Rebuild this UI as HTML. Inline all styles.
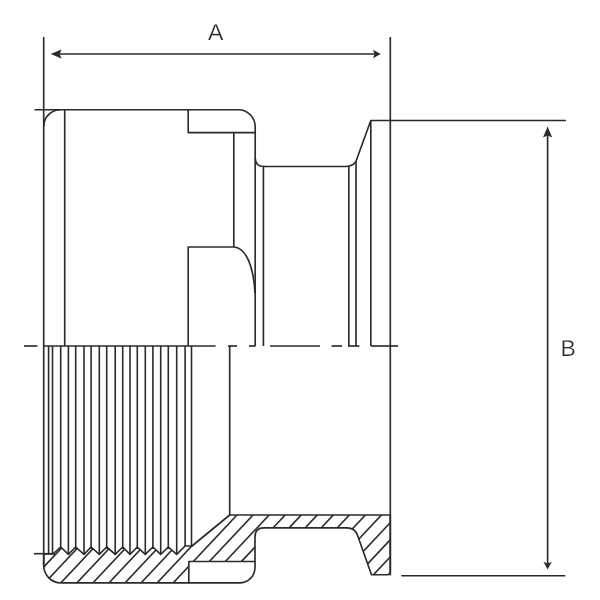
<!DOCTYPE html>
<html lang="en">
<head>
<meta charset="utf-8">
<title>Fitting dimensions A / B</title>
<style>
html,body{margin:0;padding:0;background:#fff;}
body{width:600px;height:600px;overflow:hidden;}
svg{display:block;}
text{font-family:"Liberation Sans",Arial,sans-serif;font-size:23px;fill:#2d2a2b;stroke:#fff;stroke-width:0.25px;text-rendering:geometricPrecision;}
</style>
</head>
<body>
<svg width="600" height="600" viewBox="0 0 600 600">
<defs><clipPath id="sec"><path d="M43.7,553.7 L53.00,554.00 60.70,547.00 68.40,554.30 75.70,547.00 84.00,554.30 91.10,547.00 99.30,554.30 106.70,547.00 115.20,554.30 122.70,547.00 130.00,554.30 137.30,547.00 145.30,554.30 152.90,547.00 160.70,554.30 168.30,547.00 176.70,554.30 185.10,546.00 192.00,546.00 229.70,515.00 L390.3,515 L390.3,571.5 Q390.3,574.7 387,574.7 L371.5,574.7 L357.6,535.5 Q355,527.8 347,527.8 L263.5,527.8 Q255,527.8 255,536.5 L255,561.5 L188.8,561.5 L188.8,582.9 L61,582.9 A17.3,17.3 0 0 1 43.7,565.6 Z"/></clipPath></defs>
<rect width="600" height="600" fill="#fff"/>
<g fill="none" stroke="#2d2a2b" stroke-width="1.65" stroke-linecap="butt" stroke-linejoin="round">
<!-- hatch -->
<g clip-path="url(#sec)" stroke-width="1.6"><line x1="-10.05" y1="590" x2="69.85" y2="505"/><line x1="6.00" y1="590" x2="85.90" y2="505"/><line x1="22.05" y1="590" x2="101.95" y2="505"/><line x1="38.10" y1="590" x2="118.00" y2="505"/><line x1="54.15" y1="590" x2="134.05" y2="505"/><line x1="70.20" y1="590" x2="150.10" y2="505"/><line x1="86.25" y1="590" x2="166.15" y2="505"/><line x1="102.30" y1="590" x2="182.20" y2="505"/><line x1="118.35" y1="590" x2="198.25" y2="505"/><line x1="134.40" y1="590" x2="214.30" y2="505"/><line x1="150.45" y1="590" x2="230.35" y2="505"/><line x1="166.50" y1="590" x2="246.40" y2="505"/><line x1="182.55" y1="590" x2="262.45" y2="505"/><line x1="198.60" y1="590" x2="278.50" y2="505"/><line x1="214.65" y1="590" x2="294.55" y2="505"/><line x1="230.70" y1="590" x2="310.60" y2="505"/><line x1="246.75" y1="590" x2="326.65" y2="505"/><line x1="262.80" y1="590" x2="342.70" y2="505"/><line x1="278.85" y1="590" x2="358.75" y2="505"/><line x1="294.90" y1="590" x2="374.80" y2="505"/><line x1="310.95" y1="590" x2="390.85" y2="505"/><line x1="327.00" y1="590" x2="406.90" y2="505"/><line x1="343.05" y1="590" x2="422.95" y2="505"/><line x1="359.10" y1="590" x2="439.00" y2="505"/><line x1="375.15" y1="590" x2="455.05" y2="505"/><line x1="391.20" y1="590" x2="471.10" y2="505"/><line x1="407.25" y1="590" x2="487.15" y2="505"/><line x1="423.30" y1="590" x2="503.20" y2="505"/></g>
<!-- section outline -->
<path d="M43.7,553.7 L53.00,554.00 60.70,547.00 68.40,554.30 75.70,547.00 84.00,554.30 91.10,547.00 99.30,554.30 106.70,547.00 115.20,554.30 122.70,547.00 130.00,554.30 137.30,547.00 145.30,554.30 152.90,547.00 160.70,554.30 168.30,547.00 176.70,554.30 185.10,546.00 192.00,546.00 229.70,515.00 L390.3,515 L390.3,571.5 Q390.3,574.7 387,574.7 L371.5,574.7 L357.6,535.5 Q355,527.8 347,527.8 L263.5,527.8 Q255,527.8 255,536.5 L255,561.5 L188.8,561.5 L188.8,582.9 L61,582.9 A17.3,17.3 0 0 1 43.7,565.6 Z"/>
<!-- thread lines -->
<g stroke-width="1.6"><line x1="60.70" y1="346.0" x2="60.70" y2="547.0"/><line x1="75.70" y1="346.0" x2="75.70" y2="547.0"/><line x1="91.10" y1="346.0" x2="91.10" y2="547.0"/><line x1="106.70" y1="346.0" x2="106.70" y2="547.0"/><line x1="122.70" y1="346.0" x2="122.70" y2="547.0"/><line x1="137.30" y1="346.0" x2="137.30" y2="547.0"/><line x1="152.90" y1="346.0" x2="152.90" y2="547.0"/><line x1="168.30" y1="346.0" x2="168.30" y2="547.0"/><line x1="68.40" y1="346.0" x2="68.40" y2="554.3"/><line x1="84.00" y1="346.0" x2="84.00" y2="554.3"/><line x1="99.30" y1="346.0" x2="99.30" y2="554.3"/><line x1="115.20" y1="346.0" x2="115.20" y2="554.3"/><line x1="130.00" y1="346.0" x2="130.00" y2="554.3"/><line x1="145.30" y1="346.0" x2="145.30" y2="554.3"/><line x1="160.70" y1="346.0" x2="160.70" y2="554.3"/><line x1="176.70" y1="346.0" x2="176.70" y2="554.3"/><line x1="48.6" y1="346.0" x2="48.6" y2="553.3"/><line x1="52.5" y1="346.0" x2="52.5" y2="553.8"/><line x1="185.1" y1="346.0" x2="185.1" y2="546.0"/><line x1="191.5" y1="346.0" x2="191.5" y2="546.0"/></g>
<line x1="34" y1="553.7" x2="55" y2="553.7"/>
<!-- left edge / extension line -->
<line x1="43.7" y1="37" x2="43.7" y2="566"/>
<!-- upper profile -->
<path d="M34.5,109.7 L238.4,109.7 A16.8,17.2 0 0 1 255.2,126.9 L255.2,346.0"/>
<path d="M43.7,126.5 A16.5,16.8 0 0 1 60.2,109.7"/>
<line x1="64.7" y1="109.7" x2="64.7" y2="346.0"/>
<path d="M188.2,109.7 L188.2,132.6 L255.2,132.6"/>
<path d="M233.8,132.5 L233.8,247 M188.2,346.0 L188.2,247 L233.8,247 C246.5,248 253.6,267 255.0,293"/>
<path d="M255.2,158 Q255.4,166.5 263.6,166.5 L345,166.5 Q352.5,166.5 355.8,161.7 L370.8,120.5 L566,120.5"/>
<line x1="263.4" y1="166.5" x2="263.4" y2="346.0"/>
<line x1="348.8" y1="166.5" x2="348.8" y2="346.0"/>
<line x1="356" y1="161.5" x2="356" y2="346.0"/>
<line x1="370.8" y1="120.5" x2="370.8" y2="346.0"/>
<line x1="390.3" y1="37" x2="390.3" y2="575.4"/>
<!-- lower inner -->
<line x1="229.7" y1="346.0" x2="229.7" y2="515"/>
<!-- pocket rounded -->
<path d="M188.8,582.9 L239.5,582.9 A15.5,15.5 0 0 0 255,567.4 L255,561.5"/>
<!-- centreline -->
<line x1="24" y1="346.0" x2="37.3" y2="346.0"/><line x1="43.5" y1="346.0" x2="215.6" y2="346.0"/><line x1="228" y1="346.0" x2="237" y2="346.0"/><line x1="249" y1="346.0" x2="255.5" y2="346.0"/><line x1="270" y1="346.0" x2="320" y2="346.0"/><line x1="331.6" y1="346.0" x2="342" y2="346.0"/><line x1="348" y1="346.0" x2="359.4" y2="346.0"/><line x1="371" y1="346.0" x2="398" y2="346.0"/>
<!-- dimensions -->
<line x1="58" y1="54" x2="376" y2="54"/>
<line x1="547.6" y1="134" x2="547.6" y2="565"/>
<line x1="401.3" y1="575.7" x2="565.2" y2="575.7"/>
</g>
<g fill="#2d2a2b" stroke="none">
<path d="M50.6,54 L61.6,49.4 L59.6,54 L61.6,58.6 Z"/>
<path d="M380.8,54 L373,49.8 L374.6,54 L373,58.2 Z"/>
<path d="M547.6,126.4 L543,137.6 L547.6,135.6 L552.2,137.6 Z"/>
<path d="M547.6,569.6 L543.4,561.8 L547.6,563.4 L551.8,561.8 Z"/>
</g>
<g style="filter:grayscale(1)"><text x="215.7" y="40.3" text-anchor="middle">A</text>
<text x="568.2" y="356.4" text-anchor="middle">B</text></g>
</svg>
</body>
</html>
